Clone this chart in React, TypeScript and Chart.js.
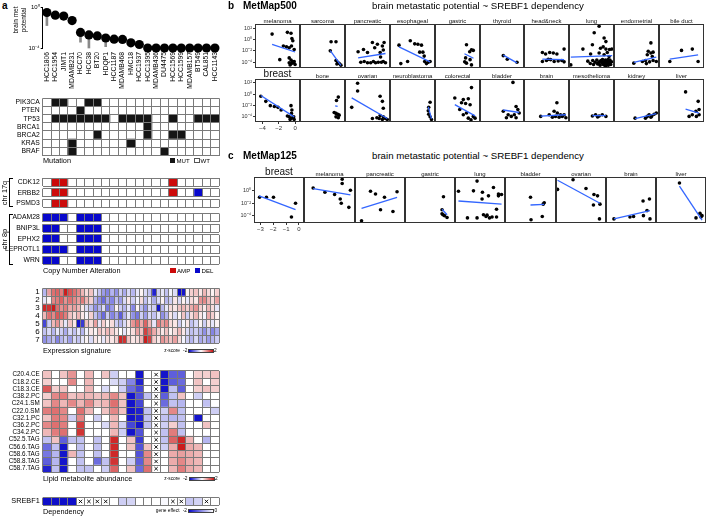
import React, { useEffect, useRef } from 'react';
import { Chart, registerables } from 'chart.js';

Chart.register(...registerables);
const FONT = "'Liberation Sans', Arial, Helvetica, sans-serif";
Chart.defaults.font.family = FONT;
Chart.defaults.color = '#000';

// ---------------- panel a data ----------------
const CELL_LINES = ['HCC1806', 'HCC1954', 'JIMT1', 'MDAMB231', 'HCC70', 'HCC38', 'BT20', 'HDQP1', 'HCC1187', 'MDAMB468', 'HMC18', 'HCC1937', 'HCC1395', 'MDAMB436', 'DU4475', 'HCC1569', 'HCC1599', 'MDAMB157', 'BT549', 'CAL851', 'HCC1143'];
const BRAIN_MET = [0.29, 0.16, 0.13, 0.047, 0.0033, 0.0019, 0.0015, 0.00095, 0.00072, 0.00068, 0.00032, 0.00022, 0.0001, 0.0001, 0.0001, 0.0001, 0.0001, 0.0001, 0.0001, 0.0001, 0.0001];
const BRAIN_MET_LOW: (number | null)[] = [0.0155, null, null, 0.03, 0.00037, 0.0001, null, 0.000135, null, 0.0004, 0.00016, null, null, null, null, null, null, null, null, null, null];

const MUT_GENES = ['PIK3CA', 'PTEN', 'TP53', 'BRCA1', 'BRCA2', 'KRAS', 'BRAF'];
const MUT_PIK3CA = [0, 1, 1, 0, 0, 1, 1, 0, 0, 0, 0, 0, 0, 0, 0, 0, 0, 0, 0, 0, 0];
const MUT_PTEN = [0, 0, 0, 0, 1, 0, 0, 0, 0, 0, 0, 0, 0, 0, 0, 0, 0, 0, 0, 0, 0];
const MUT_TP53 = [0, 1, 1, 1, 1, 1, 1, 1, 0, 1, 1, 1, 1, 0, 0, 1, 0, 0, 1, 1, 1];
const MUT_BRCA1 = [0, 0, 0, 0, 0, 0, 0, 0, 0, 0, 0, 0, 1, 0, 0, 0, 0, 0, 0, 0, 0];
const MUT_BRCA2 = [0, 0, 0, 0, 0, 0, 1, 0, 0, 0, 0, 0, 1, 0, 0, 1, 1, 0, 0, 0, 0];
const MUT_KRAS = [0, 0, 0, 1, 0, 0, 0, 0, 0, 0, 1, 0, 0, 0, 0, 0, 0, 0, 0, 0, 0];
const MUT_BRAF = [0, 0, 0, 1, 0, 0, 0, 0, 0, 0, 0, 0, 0, 0, 1, 0, 0, 0, 0, 0, 0];

// copy number: 1 = AMP, -1 = DEL
const CNA_CDK12 = [0, 1, 1, 0, 0, 0, 0, 0, 0, 0, 0, 0, 0, 0, 0, 1, 0, 0, 0, 0, 0];
const CNA_ERBB2 = [0, 1, 1, 0, 0, 0, 0, 0, 0, 0, 0, 0, 0, 0, 0, 1, 0, 0, -1, 0, 0];
const CNA_PSMD3 = [0, 1, 1, 0, 0, 0, 0, 0, 0, 0, 0, 0, 0, 0, 0, 0, 0, 0, 0, 0, 0];
const CNA_ADAM28 = [-1, -1, -1, 0, -1, -1, -1, 0, 0, 0, 0, 0, 0, 0, 0, 0, 0, 0, 0, 0, 0];
const CNA_BNIP3L = [-1, -1, 0, 0, -1, -1, -1, 0, 0, 0, 0, 0, 0, 0, 0, 0, 0, 0, 0, 0, 0];
const CNA_EPHX2 = [-1, -1, 0, 0, -1, -1, -1, 0, 0, 0, 0, 0, 0, 0, 0, 0, 0, 0, 0, 0, 0];
const CNA_LEPROTL1 = [-1, -1, -1, 0, -1, -1, -1, 0, 0, 0, 0, 0, 0, 0, 0, 0, 0, 0, 0, 0, 0];
const CNA_WRN = [-1, -1, 0, 0, -1, -1, -1, 0, 0, 0, 0, 0, 0, 0, 0, 0, 0, 0, 0, 0, 0];

const EXPR_ROWS = ['1', '2', '3', '4', '5', '6', '7'];
const EXPR_1 = [-0.6, 0.8, 1.2, 1.3, 1.1, 1.9, 1.4, 1.2, 1.0, 0.6, 0.3, 0.5, -0.2, -0.5, -0.8, -1.0, -0.6, -0.9, -0.4, -0.7, -0.3, -0.6, -0.2, 0.1, -0.3, -0.5, -1.8, -0.4, -0.2, -0.5, -0.1, -0.3, -2.0, -1.9, 0.1, 0.4, 0.5, 0.2, 0.6, 0.3, 0.1, 0.4];
const EXPR_2 = [-0.2, 0.1, 1.0, 1.1, 1.3, 0.9, 1.2, 1.0, 0.8, 1.1, 0.6, 0.4, -0.6, -0.9, -1.2, -0.7, -1.0, -0.5, -0.8, -0.3, 0.2, -0.4, -0.1, 0.3, -0.5, -0.2, -0.7, -0.3, 0.1, -0.6, -0.4, 0.2, -0.3, 0.1, -0.2, 0.3, 0.2, 0.9, 1.0, 0.6, 0.3, 0.8];
const EXPR_3 = [1.8, 1.7, 1.9, 1.2, 0.9, 1.1, 0.7, 0.8, 0.6, 0.2, -0.3, -0.5, -0.9, -0.6, -0.3, -1.1, -0.8, 0.1, -0.4, -0.6, -0.2, -1.0, 0.1, -0.5, -0.9, -0.3, -0.4, -1.9, -0.6, -0.2, 0.3, 0.2, 0.5, 0.6, 0.4, 0.7, 0.9, 0.4, 0.2, 0.6, 0.3, -0.2];
const EXPR_4 = [0.6, 1.2, 1.0, 1.4, 1.3, 1.1, 0.5, 0.3, 0.6, 0.2, -0.1, 0.4, -0.5, -0.8, -1.2, -0.4, -1.0, -0.7, -1.3, -0.6, -0.2, -0.9, -1.1, -0.4, -0.8, -0.3, -0.5, -0.2, -0.9, -0.6, 0.2, -0.3, 0.1, 0.5, -0.4, 0.3, 0.6, 0.2, -0.1, 0.7, 0.4, 0.1];
const EXPR_5 = [-1.5, -0.4, 0.6, 0.9, 0.4, -0.2, 0.5, 0.2, -1.9, -1.6, 0.5, 0.3, 0.8, -0.2, 0.4, 0.1, 0.3, -0.4, -0.6, -0.3, 0.2, 0.9, 1.2, 0.7, 1.3, 0.6, -0.2, 1.1, 0.8, 1.0, 0.3, 0.2, -0.4, -0.1, 0.2, -0.5, -0.3, 0.1, -0.4, 0.2, -0.2, 0.1];
const EXPR_6 = [-0.5, -0.3, -0.6, -0.2, -0.4, -0.7, -0.3, -0.5, -0.2, -0.6, -0.1, 0.2, 0.1, 0.5, 0.3, 0.6, 0.4, 0.2, 0.0, -0.2, 0.1, 0.3, 0.8, 0.5, 1.6, 1.2, 0.7, 0.4, 0.2, 0.5, 0.1, 0.3, 0.6, 0.2, -0.3, -0.5, -0.4, -0.6, -0.9, -0.5, -1.0, -0.7];
const EXPR_7 = [-0.9, -0.7, -0.5, -1.0, -0.6, -0.4, -0.8, -0.3, -0.5, -0.2, 0.1, -0.3, 0.2, 0.1, -0.2, 0.3, 0.2, 0.4, 1.8, 1.7, 0.5, 0.2, 0.3, 0.6, 1.9, 1.6, 0.4, 0.2, 0.9, 0.7, 0.5, 0.8, 0.3, -0.1, -0.4, -0.6, -0.3, -0.7, -0.5, -0.8, -0.6, -0.4];

const LIPIDS = ['C20.4.CE', 'C18.2.CE', 'C18.3.CE', 'C38.2.PC', 'C24.1.SM', 'C22.0.SM', 'C32.1.PC', 'C36.2.PC', 'C34.2.PC', 'C52.5.TAG', 'C56.6.TAG', 'C58.6.TAG', 'C58.8.TAG', 'C58.7.TAG'];
const LIP_C20_4_CE = [0.5, 0, 0.5, 0.9, 0, 0.6, 0, 0.5, -0.4, 0, 0, -1.9, 0, null, -1.9, -1.3, -1.3, 0, 0.4, 0.4, 0.5];
const LIP_C18_2_CE = [0.4, 0, 0, 1.0, 0, 0.6, 0, 0, -0.3, -0.4, -1.0, -1.8, 0, null, -1.9, -1.3, -1.2, 0, 0.5, 0, 0.4];
const LIP_C18_3_CE = [1.4, 0.4, 0.5, 0, 0, 0.6, 0, -0.3, 0, -0.4, -1.2, -1.5, 0, null, -1.9, -0.5, -1.3, 0, 0.4, 0.5, 0.4];
const LIP_C38_2_PC = [0.4, 1.0, 1.1, 0.5, 0.6, 0.6, 0.5, 0.6, 1.0, 0.5, -1.9, -1.4, -0.5, null, -1.3, -0.5, 0.5, 0, -0.4, 0, 0];
const LIP_C24_1_SM = [0.5, 1.0, 0.6, 1.0, 0.6, 1.0, 0.5, 0.6, 1.2, 0.5, -1.9, -1.5, 0, null, -1.2, -0.5, -0.6, 0, 0, -0.5, 0];
const LIP_C22_0_SM = [1.1, 1.2, 1.0, 0, 1.2, 0.6, 0, 0.5, 1.0, 0.5, -1.9, -1.8, -0.5, null, -0.4, 1.0, -0.5, 0, 0, 0, -0.4];
const LIP_C32_1_PC = [0.5, 1.1, 1.0, -0.4, 1.0, 0, -0.4, 0, 0.6, 0, -1.9, -1.8, -0.5, null, -0.5, -0.6, -0.5, 0, -1.9, 0, 0];
const LIP_C36_2_PC = [1.0, 1.2, 1.1, 0, 1.6, 0, 0, -0.3, 0.6, -0.4, -1.5, -1.9, -0.5, null, -0.4, 0.4, -0.5, 0, 0, 0.5, 0];
const LIP_C34_2_PC = [0.6, 1.1, 1.2, 0, 1.7, 0, 0, 0, 0.6, -0.4, -1.9, -1.4, 0, null, -0.5, 1.1, -0.5, 0, 0, 0, 0];
const LIP_C52_5_TAG = [-0.5, 0.5, -1.3, -0.5, -0.5, 0, -0.5, 0, 1.8, 0, 0.5, -1.6, 0, null, -0.5, 1.3, 1.8, 0.6, 0, -0.6, 0];
const LIP_C56_6_TAG = [-1.2, -0.5, -1.9, 0, -0.5, 0, -0.5, 0, 1.8, 0, 0.5, -1.4, 0.5, null, -0.4, 0.7, 1.9, 0.7, 0.6, 0, 0];
const LIP_C58_6_TAG = [-1.1, -0.6, -1.9, 0.6, -0.5, 0, -0.5, 0, 1.8, 0, 0, -1.4, 1.0, null, 0, 0.7, 0.8, 0.7, 0.6, 0, 0];
const LIP_C58_8_TAG = [-1.3, -0.6, -1.9, 0, -0.5, 0, -1.2, -0.5, 1.7, 0, -0.4, -1.3, 1.0, null, 0, 0.7, 1.0, 0.7, 0.6, 0, 0];
const LIP_C58_7_TAG = [-1.8, -0.5, -1.9, 0, -0.5, -0.5, 0, -0.4, 1.3, 0, 0.5, -1.2, 1.2, null, 0, 0.6, 1.1, 0.7, 0.6, 0, 0];

const SREBF1_EFFECT = [-1.95, -1.95, -1.95, -1.95, null, null, null, null, 0, -0.4, -0.35, 0, 0, 0, -0.05, null, null, -0.45, -0.35, null, 0];

// ---------------- panel b data (x = SREBF1 dependency, y = log10 brain met potential) ----------------
const B_ROW1_NAMES = ['melanoma', 'sarcoma', 'pancreatic', 'esophageal', 'gastric', 'thyroid', 'head&neck', 'lung', 'endometrial', 'bile duct'];
const B_ROW2_NAMES = ['breast', 'bone', 'ovarian', 'neuroblastoma', 'colorectal', 'bladder', 'brain', 'mesothelioma', 'kidney', 'liver'];
const B_MELANOMA = [[-2.81, 0.93], [-0.94, 1.24], [-0.5, 1.08], [-0.39, 0.16], [-0.28, -0.23], [-1.43, -1.15], [-1.05, -1.3], [-0.72, -1.46], [-0.44, -1.15], [-0.11, -1.77], [-1.87, -3.54], [-0.72, -3.23], [-0.5, -3.61], [-0.33, -3.85], [-0.11, -3.85], [-0.72, -4.08], [-0.44, -4.23], [-0.17, -4.08], [-0.61, -4.46], [0, -4.38]];
const B_SARCOMA = [[-1.1, -0.4], [-0.5, -0.4], [-1.2, -2.0], [-0.5, -3.7], [-0.28, -4.0], [-0.1, -4.23], [-0.39, -4.3], [0.1, -4.5]];
const B_PANCREATIC = [[-3.3, -2.16], [-2.64, -1.77], [-2.15, -2.3], [-1.55, -0.54], [-1.27, -1.46], [-0.94, -0.85], [-0.33, -1.15], [-0.12, -0.54], [-0.22, -1.84], [-0.6, -2.3], [-0.55, -3.08], [-2.97, -4.0], [-2.55, -3.85], [-2.15, -4.08], [-1.76, -4.08], [-1.43, -3.85], [-1.16, -4.08], [-0.83, -4.0], [-0.45, -4.0], [-0.22, -3.85], [0.05, -4.08]];
const B_ESOPHAGEAL = [[-3.8, -1.0], [-2.42, -0.23], [-1.88, -0.77], [-1.49, -0.85], [-1.05, -1.0], [-1.27, -2.23], [-0.88, -2.23], [-0.72, -2.92], [-2.75, -3.85], [-3.58, -4.23], [-0.66, -3.85], [-0.22, -4.0], [0, -3.85], [-0.44, -4.23]];
const B_GASTRIC = [[-1.05, -0.92], [-0.44, -1.8], [-0.22, -1.92], [-0.66, -2.15], [-1.16, -3.23], [-0.61, -3.54], [-1.05, -4.15], [-0.44, -4.46], [-1.27, -3.92]];
const B_THYROID = [[-1.99, -2.84], [-1.49, -3.46], [-0.28, -4.0]];
const B_HEADNECK = [[-2.65, -2.3], [-2.26, -2.54], [-1.76, -2.3], [-1.32, -2.38], [-0.88, -2.54], [0, -1.69], [-2.65, -3.85], [-2.15, -3.69], [-1.65, -3.54], [-1.21, -3.85], [-0.72, -3.77], [-0.28, -3.69], [0, -3.92], [-1.93, -3.46]];
const B_LUNG = [[-1.22, 2.3], [-1.82, 1.16], [-0.61, 0.24], [-0.39, -0.38], [-2.04, -0.92], [-3.2, -1.69], [-1.05, -1.54], [-0.72, -1.3], [-0.39, -1.69], [0.05, -1.77], [-0.22, -2.3], [0.33, -1.69], [-0.61, -2.69], [-2.26, -2.54], [-1.22, -2.38], [0, -2.99], [-4.68, -4.46], [-2.6, -3.8], [-2.3, -4.2], [-2.0, -3.7], [-1.9, -4.4], [-1.7, -4.0], [-1.5, -3.6], [-1.4, -4.3], [-1.2, -3.9], [-1.1, -4.5], [-1.0, -3.7], [-0.9, -4.1], [-0.8, -3.5], [-0.7, -4.4], [-0.6, -3.9], [-0.5, -4.2], [-0.45, -3.6], [-0.4, -4.6], [-0.3, -4.0], [-0.25, -3.7], [-0.2, -4.3], [-0.15, -3.9], [-0.1, -4.5], [-0.05, -4.1], [0, -3.8], [0.05, -4.3], [0.1, -3.6], [0.15, -4.0], [0.2, -4.4], [-0.35, -4.3], [-0.55, -4.5], [-0.75, -4.0], [-1.3, -4.1], [0.3, -3.9], [-0.12, -3.5]];
const B_ENDOMETRIAL = [[-0.39, -0.61], [-0.72, -2.07], [-0.39, -2.38], [-0.12, -2.23], [-0.83, -2.69], [-0.22, -2.99], [-2.48, -4.15], [-1.43, -3.85], [-1.05, -3.69], [-0.55, -3.92], [-0.12, -3.69], [0.27, -3.85], [-0.94, -4.23]];
const B_BILEDUCT = [[-3.58, -3.85], [-2.15, -1.92], [-0.83, -1.69], [-0.12, -3.85]];
const B_BREAST = [[-4.19, -0.38], [-3.58, -1.3], [-3.03, -2.07], [-2.53, -2.23], [-2.09, -2.38], [-1.71, -2.84], [-0.5, -2.07], [-0.39, -2.84], [-0.44, -3.46], [-0.72, -4.08], [-0.94, -3.92], [-0.5, -4.38], [-0.33, -4.23], [-0.11, -4.54], [-0.17, -4.08], [-0.61, -4.54]];
const B_BONE = [[-0.22, -0.54], [-0.44, -1.15], [-0.5, -3.46], [-0.72, -3.3], [-0.28, -3.61], [-0.5, -4.08], [-0.22, -4.23], [-0.11, -3.77]];
const B_OVARIAN = [[-3.36, 1.93], [-3.36, 0.54], [-4.08, -2.38], [-0.61, -0.38], [-0.33, -1.3], [-0.22, -2.54], [-1.55, -4.38], [-1.0, -4.23], [-0.61, -3.85], [-0.22, -4.08], [0.05, -4.38], [0.27, -4.54], [-0.33, -4.54], [-0.72, -4.38]];
const B_NEUROBLASTOMA = [[0, -1.46], [-0.17, -2.38], [-0.22, -3.0], [-0.17, -3.61], [0, -4.08], [0.17, -4.54]];
const B_COLORECTAL = [[-2.48, -0.69], [-1.44, -0.99], [-1.66, -1.54], [-0.44, 1.16], [-0.83, -0.84], [-1.16, -1.69], [-0.61, -1.92], [-1.05, -3.38], [-0.22, -4.0], [0, -4.31], [-0.83, -4.31], [-0.5, -4.62], [-1.44, -3.69], [-1.88, -2.77]];
const B_BLADDER = [[-0.78, 2.09], [-1.99, -3.08], [-0.39, -2.23], [-0.17, -2.77], [-1.38, -3.69], [-0.99, -4.0], [-0.61, -3.69], [-0.39, -4.23], [-1.6, -4.23], [0, -3.38]];
const B_BRAIN = [[-0.88, -1.54], [-2.86, -4.0], [-1.22, -3.08], [-0.83, -3.38], [-0.44, -3.69], [-0.22, -4.0], [-0.61, -4.15], [-1.05, -4.0], [-1.43, -4.15], [0, -3.69], [-1.82, -3.69], [0.22, -4.23]];
const B_MESOTHELIOMA = [[-2.04, -3.92], [-1.65, -3.69], [-1.22, -3.92], [-0.83, -3.69], [-0.39, -4.0], [-1.4, -4.1]];
const B_KIDNEY = [[-2.32, -4.31], [-0.83, -4.0], [-0.61, -3.69], [-0.28, -3.92], [0, -3.61], [0.27, -3.38], [-0.39, -4.15], [-1.05, -4.31]];
const B_LIVER = [[-1.65, 0.39], [-0.11, -1.3], [0, -2.77], [-0.39, -3.08], [-0.83, -3.69], [-1.22, -4.0], [0, -3.69], [-0.33, -4.0]];
// fitted lines: [x1, y1, x2, y2]
const B_FITS_ROW1 = [[-2.81, -0.85, 0.0, -2.2], [-1.2, -1.95, 0.1, -4.55], [-3.3, -3.23, 0.05, -2.46], [-3.8, -1.3, 0.0, -3.92], [-1.3, -2.5, -0.2, -3.3], [-1.99, -2.75, -0.28, -4.1], [-2.65, -3.46, 0, -3.54], [-4.68, -3.1, 0.38, -2.85], [-2.48, -4.0, 0.27, -3.08], [-3.58, -3.46, -0.12, -2.69]];
const B_FITS_ROW2 = [[-4.19, -0.26, -0.11, -4.08], [-0.6, -2.1, -0.3, -2.2], [-4.08, -0.69, 0.27, -4.38], [-0.22, -2.3, 0.17, -4.4], [-2.48, -1.9, 0, -3.9], [-1.99, -2.85, 0, -3.3], [-2.86, -3.95, 0.22, -3.7], [-2.04, -3.85, -0.39, -3.85], [-2.32, -4.4, 0.27, -3.5], [-1.65, -2.7, 0, -3.4]];

// ---------------- panel c data ----------------
const C_NAMES = ['breast', 'melanoma', 'pancreatic', 'gastric', 'lung', 'bladder', 'ovarian', 'brain', 'liver'];
const C_BREAST = [[-3.07, -1.1], [-2.53, -1.1], [-1.98, -1.1], [-0.26, -2.03], [-0.58, -4.17]];
const C_MELANOMA = [[-2.8, 0.33], [-1.9, -0.31], [-1.16, -0.67], [-0.58, 1.7], [-0.58, 1.05], [0.05, 0.0], [-0.73, -1.38], [-0.65, -2.03], [-0.07, -2.67]];
const C_PANCREATIC = [[-2.99, -4.74], [-2.29, -0.17], [-1.9, -0.6], [-1.51, -3.03], [-1.2, -1.1], [-0.54, -3.31], [-0.22, -0.24]];
const C_GASTRIC = [[-0.5, -1.02], [-0.61, -3.05], [-0.54, -3.81], [-0.61, -3.67], [-0.42, -3.96], [-0.22, -4.24]];
const C_LUNG = [[-3.23, -0.17], [-1.78, 1.41], [-2.06, -0.1], [-1.36, -0.31], [-0.89, -0.88], [-1.39, -1.38], [-0.5, 0.41], [-0.11, -0.6], [0.13, -0.67], [-0.11, -0.88], [-0.26, -2.96], [-1.28, -3.81], [-1.08, -4.1], [-0.81, -4.31], [-0.61, -4.17], [-0.26, -4.17], [-2.53, -4.31], [-1.78, -4.31], [-1.0, -3.88]];
const C_BLADDER = [[-1.55, -1.1], [-1.51, -4.6], [-0.58, -2.17], [-0.5, -1.96], [-0.65, -4.1]];
const C_OVARIAN = [[-3.38, 0.12], [-2.17, 1.62], [-1.16, 0.26], [-0.54, -0.67], [-0.26, -0.88], [-0.58, -2.31], [-0.07, -2.17], [-0.11, -4.46]];
const C_BRAIN = [[-2.88, -4.46], [-1.63, -4.17], [-1.35, -4.1], [-0.61, -1.67], [-0.11, -1.38], [-0.3, -3.17], [-0.58, -3.96], [-0.07, -4.46]];
const C_LIVER = [[-1.67, 1.12], [-0.07, -3.6], [-0.38, -4.31], [0.01, -4.17], [0.09, -3.96]];
const C_FITS = [[-3.1, -0.88, -0.26, -3.03], [-2.8, 0.26, 0.05, -0.74], [-2.99, -2.81, -0.22, -1.1], [-0.61, -2.96, -0.22, -3.81], [-3.23, -1.68, 0.13, -2.17], [-1.55, -2.3, -0.5, -2.2], [-3.38, 1.55, -0.07, -2.03], [-2.88, -4.46, -0.07, -3.17], [-1.67, 0.62, 0.09, -4.67]];

const B_X_RANGE = [-4.9, 0.6];
const B_Y_RANGE = [-5, 2.7];
const B_Y_TICKS = [2, 0, -2, -4];
const B_X_TICKS = [-4, -2, 0];
const C_X_RANGE = [-3.5, 0.4];
const C_Y_RANGE = [-5.1, 2.05];
const C_Y_TICKS = [0, -2, -4];
const C_X_TICKS = [-3, -2, -1, 0];
const A_Y_TICKS = [-4, 0];

// ---------------- helpers ----------------
const SUP: Record<string, string> = { '0': '⁰', '1': '¹', '2': '²', '3': '³', '4': '⁴', '5': '⁵', '6': '⁶', '7': '⁷', '8': '⁸', '9': '⁹', '-': '⁻' };
const pow10 = (v: number) => '10' + String(v).split('').map((c) => SUP[c] ?? c).join('');
const minusFmt = (v: number) => (v < 0 ? '−' + Math.abs(v) : String(v));

const RED = [200, 16, 16];
const BLUE = [8, 8, 200];
const mix = (c: number[], t: number) => `rgb(${Math.round(255 + (c[0] - 255) * t)},${Math.round(255 + (c[1] - 255) * t)},${Math.round(255 + (c[2] - 255) * t)})`;
const zColor = (v: number | null) => (v == null ? '#fff' : v >= 0 ? mix(RED, Math.min(1, v / 2)) : mix(BLUE, Math.min(1, -v / 2)));
const effColor = (v: number | null) => (v == null ? '#fff' : mix(BLUE, Math.min(1, Math.max(0, -v / 2))));
const mutColor = (v: number | null) => (v ? '#151515' : '#fff');
const cnaColor = (v: number | null) => (v && v > 0 ? '#CC0A0A' : v && v < 0 ? '#0808CC' : '#fff');

const BASE_OPTS = {
  responsive: false,
  maintainAspectRatio: false,
  animation: false,
  events: [] as any[],
};
const NO_PLUGINS = { legend: { display: false }, tooltip: { enabled: false } };
const noPad = (s: any) => { s.paddingTop = 0; s.paddingBottom = 0; s.paddingLeft = 0; s.paddingRight = 0; };

const boxPlugin = {
  id: 'panelBox',
  afterDatasetsDraw(chart: any) {
    const { ctx, chartArea: a } = chart;
    ctx.save();
    ctx.strokeStyle = '#333';
    ctx.lineWidth = 1;
    ctx.strokeRect(Math.round(a.left) + 0.5, Math.round(a.top) + 0.5, Math.round(a.right - a.left) - 1, Math.round(a.bottom - a.top) - 1);
    ctx.restore();
  },
};

function ChartBox({ x, y, w, h, config }: { x: number; y: number; w: number; h: number; config: any }) {
  const ref = useRef<HTMLCanvasElement>(null);
  useEffect(() => {
    const c = new Chart(ref.current as HTMLCanvasElement, config);
    return () => c.destroy();
  }, []);
  return <canvas ref={ref} width={w} height={h} style={{ position: 'absolute', left: x, top: y, width: w, height: h }} />;
}

function Txt({ x, y, s = 8, bold = false, anchor = 'start', children, color = '#000' }: any) {
  const tx = anchor === 'middle' ? '-50%' : anchor === 'end' ? '-100%' : '0';
  return (
    <div
      style={{
        position: 'absolute', left: x, top: y, fontSize: s, fontWeight: bold ? 700 : 400, lineHeight: 1, whiteSpace: 'nowrap', color,
        transform: `translate(${tx},-50%)`, fontFamily: FONT,
      }}
    >
      {children}
    </div>
  );
}

function Box({ x, y, w, h, bg = '#fff', border = 'none' }: any) {
  return <div style={{ position: 'absolute', left: x, top: y, width: w, height: h, background: bg, border, boxSizing: 'border-box' }} />;
}

// ---------------- lollipop (log10 values on a linear axis labelled as powers of ten) ----------------
function lollipopConfig() {
  const logMet = BRAIN_MET.map((v) => Math.log10(v));
  return {
    type: 'bar',
    data: {
      labels: CELL_LINES,
      datasets: [
        { type: 'line', data: logMet, showLine: false, pointRadius: 4.6, pointBackgroundColor: '#000', pointBorderWidth: 0, clip: false, order: 0 },
        {
          type: 'bar', data: BRAIN_MET_LOW.map((lo, i) => (lo == null ? null : [Math.log10(lo), logMet[i]])),
          backgroundColor: '#8a8a8a', barThickness: 2, clip: false, order: 1,
        },
      ],
    },
    options: {
      ...BASE_OPTS,
      layout: { autoPadding: false, padding: { top: 7, right: 221 - 219.1, left: 0, bottom: 0 } },
      plugins: NO_PLUGINS,
      scales: {
        x: {
          type: 'category', offset: true, grid: { display: false, drawTicks: false }, border: { display: false },
          ticks: { autoSkip: false, minRotation: 90, maxRotation: 90, font: { size: 6.8 }, color: '#000', padding: 4 },
          afterFit: (s: any) => { s.height = 97 - 48; noPad(s); },
        },
        y: {
          type: 'linear', min: -4, max: 0,
          afterBuildTicks: (s: any) => { s.ticks = A_Y_TICKS.map((v) => ({ value: v })); },
          ticks: { callback: (v: number) => pow10(v), font: { size: 6 }, color: '#000', padding: 1 },
          grid: { drawOnChartArea: false, tickLength: 2, color: '#000' },
          border: { color: '#000' },
          afterFit: (s: any) => { s.width = 42.7; noPad(s); },
        },
      },
    },
  };
}

// ---------------- heatmaps ----------------
const GRID = '#7a7a7a';
const HM_L = 42.7;
const HM_R = 219.1;
const HM_W = 221;

function heatConfig(rows: string[], m: (number | null)[][], color: (v: number | null) => string, padTop: number, padBottom: number, fs: number) {
  const C = m[0].length;
  const datasets: any[] = [];
  const na: any[] = [];
  rows.forEach((r, i) => m[i].forEach((v, j) => { if (v === null) na.push({ x: j + 0.5, y: r }); }));
  if (na.length) {
    datasets.push({ type: 'scatter', data: na, pointStyle: 'crossRot', pointRadius: 2.4, borderColor: '#000', borderWidth: 0.9, backgroundColor: '#000', clip: false });
  }
  for (let j = 0; j < C; j++) {
    datasets.push({
      type: 'bar', indexAxis: 'y', grouped: false, barPercentage: 1, categoryPercentage: 1, borderWidth: 0,
      data: rows.map(() => [j, j + 1]),
      backgroundColor: rows.map((_, i) => color(m[i][j])),
    });
  }
  return {
    type: 'bar',
    data: { labels: rows, datasets },
    options: {
      ...BASE_OPTS,
      indexAxis: 'y',
      layout: { autoPadding: false, padding: { top: padTop, bottom: padBottom, left: 0, right: HM_W - HM_R } },
      plugins: NO_PLUGINS,
      scales: {
        x: {
          type: 'linear', min: 0, max: C,
          afterBuildTicks: (s: any) => { s.ticks = m[0].map((_, k) => ({ value: k })).concat([{ value: C }]); },
          ticks: { display: false }, grid: { color: GRID, z: 1, drawTicks: false }, border: { display: false },
          afterFit: (s: any) => { s.height = 0; noPad(s); },
        },
        y: {
          type: 'category', offset: true,
          grid: { offset: true, color: GRID, z: 1, drawTicks: false }, border: { display: false },
          ticks: { font: { size: fs }, color: '#000', padding: 3, autoSkip: false },
          afterFit: (s: any) => { s.width = HM_L; noPad(s); },
        },
      },
    },
  };
}

function HeatMap({ top, bottom, rows, m, color, fs }: any) {
  const y0 = Math.floor(top) - 1;
  const y1 = Math.ceil(bottom) + 1;
  return <ChartBox x={0} y={y0} w={HM_W} h={y1 - y0} config={heatConfig(rows, m, color, top - y0, y1 - bottom, fs)} />;
}

// ---------------- facet scatter ----------------
const AX_W = 21;
const AX_H = 10;
function scatterConfig(pts: number[][], fit: number[], xr: number[], yr: number[], yTicks?: number[], xTicks?: number[]) {
  return {
    type: 'scatter',
    data: {
      datasets: [
        { data: [{ x: fit[0], y: fit[1] }, { x: fit[2], y: fit[3] }], showLine: true, borderColor: '#3366FF', borderWidth: 1.3, pointRadius: 0 },
        { data: pts.map(([x, y]) => ({ x, y })), pointRadius: 1.8, pointBackgroundColor: '#000', pointBorderWidth: 0 },
      ],
    },
    options: {
      ...BASE_OPTS,
      layout: { autoPadding: false, padding: 0 },
      plugins: NO_PLUGINS,
      scales: {
        x: {
          type: 'linear', min: xr[0], max: xr[1], display: !!xTicks,
          afterBuildTicks: (s: any) => { if (xTicks) s.ticks = xTicks.map((v) => ({ value: v })); },
          ticks: { font: { size: 6 }, color: '#333', padding: 1, callback: (v: number) => minusFmt(v) },
          grid: { drawOnChartArea: false, tickLength: 2, color: '#333' }, border: { display: false },
          afterFit: (s: any) => { if (xTicks) s.height = AX_H; noPad(s); },
        },
        y: {
          type: 'linear', min: yr[0], max: yr[1], display: !!yTicks,
          afterBuildTicks: (s: any) => { if (yTicks) s.ticks = yTicks.map((v) => ({ value: v })); },
          ticks: { font: { size: 5.5 }, color: '#333', padding: 1, callback: (v: number) => pow10(v) },
          grid: { drawOnChartArea: false, tickLength: 2, color: '#333' }, border: { display: false },
          afterFit: (s: any) => { if (yTicks) s.width = AX_W; noPad(s); },
        },
      },
    },
    plugins: [boxPlugin],
  };
}

function Facet({ x0, x1, top, h, pts, fit, xr, yr, yTicks, xTicks }: any) {
  const x = yTicks ? x0 - AX_W : x0;
  const w = x1 - x;
  const hh = h + (xTicks ? AX_H : 0);
  return <ChartBox x={x} y={top} w={w} h={hh} config={scatterConfig(pts, fit, xr, yr, yTicks, xTicks)} />;
}

const B_COLS = [255, 300, 345, 390, 435, 480, 524, 569, 614, 659, 704];
const C_COLS = [254, 304, 355, 405, 455, 505, 556, 606, 656, 706];
const B_ROW1_DATA = [B_MELANOMA, B_SARCOMA, B_PANCREATIC, B_ESOPHAGEAL, B_GASTRIC, B_THYROID, B_HEADNECK, B_LUNG, B_ENDOMETRIAL, B_BILEDUCT];
const B_ROW2_DATA = [B_BREAST, B_BONE, B_OVARIAN, B_NEUROBLASTOMA, B_COLORECTAL, B_BLADDER, B_BRAIN, B_MESOTHELIOMA, B_KIDNEY, B_LIVER];
const C_DATA = [C_BREAST, C_MELANOMA, C_PANCREATIC, C_GASTRIC, C_LUNG, C_BLADDER, C_OVARIAN, C_BRAIN, C_LIVER];

export default function App() {
  const cnaRows = [
    { name: 'CDK12', v: CNA_CDK12, top: 178 },
    { name: 'ERBB2', v: CNA_ERBB2, top: 188.7 },
    { name: 'PSMD3', v: CNA_PSMD3, top: 199.3 },
    { name: 'ADAM28', v: CNA_ADAM28, top: 213.5 },
    { name: 'BNIP3L', v: CNA_BNIP3L, top: 224.2 },
    { name: 'EPHX2', v: CNA_EPHX2, top: 234.9 },
    { name: 'LEPROTL1', v: CNA_LEPROTL1, top: 245.6 },
    { name: 'WRN', v: CNA_WRN, top: 256.3 },
  ];
  const zGrad = `linear-gradient(to right, ${zColor(-2)}, #fff, ${zColor(2)})`;
  const effGrad = `linear-gradient(to right, ${effColor(-2)}, #fff)`;
  const rot = { position: 'absolute' as const, transform: 'translate(-50%,-50%) rotate(-90deg)', whiteSpace: 'nowrap' as const, fontFamily: FONT };
  const bracket = { position: 'absolute' as const, left: 9, width: 4, borderLeft: '0.8px solid #000', borderTop: '0.8px solid #000', borderBottom: '0.8px solid #000', boxSizing: 'border-box' as const };
  return (
    <div style={{ position: 'fixed', left: 0, top: 0, width: 708, height: 516, background: '#fff', overflow: 'hidden', fontFamily: FONT }}>
      {/* ---------- panel a ---------- */}
      <Txt x={2} y={6} s={10} bold>a</Txt>
      <ChartBox x={0} y={0} w={221} h={97} config={lollipopConfig()} />
      <div style={{ ...rot, left: 20, top: 20, fontSize: 6.5, lineHeight: 1.2, textAlign: 'center' }}>
        brain met<br />potential
      </div>

      <HeatMap top={98.3} bottom={155.5} rows={MUT_GENES} m={[MUT_PIK3CA, MUT_PTEN, MUT_TP53, MUT_BRCA1, MUT_BRCA2, MUT_KRAS, MUT_BRAF]} color={mutColor} fs={6.8} />
      <Txt x={43} y={160.5} s={7.3}>Mutation</Txt>
      <Box x={169.5} y={157.7} w={5.5} h={5.5} bg="#151515" />
      <Txt x={176.5} y={160.5} s={6.1}>MUT</Txt>
      <Box x={194} y={157.7} w={5.5} h={5.5} border="0.8px solid #555" />
      <Txt x={200.5} y={160.5} s={6.1}>WT</Txt>

      {cnaRows.map((r) => (
        <HeatMap key={r.name} top={r.top} bottom={r.top + 8} rows={[r.name]} m={[r.v]} color={cnaColor} fs={6.8} />
      ))}
      <div style={{ ...bracket, top: 178, height: 29 }} />
      <div style={{ ...bracket, top: 213.5, height: 51 }} />
      <div style={{ ...rot, left: 4.5, top: 192.5, fontSize: 7.3, lineHeight: 1 }}>chr 17q</div>
      <div style={{ ...rot, left: 4.5, top: 239, fontSize: 7.3, lineHeight: 1 }}>chr 8p</div>
      <Txt x={43} y={270.5} s={7.3}>Copy Number Alteration</Txt>
      <Box x={170} y={267.7} w={5.5} h={5.5} bg="#CC0A0A" />
      <Txt x={177} y={270.5} s={6.1}>AMP</Txt>
      <Box x={194.5} y={267.7} w={5.5} h={5.5} bg="#0808CC" />
      <Txt x={201.5} y={270.5} s={6.1}>DEL</Txt>

      <HeatMap top={288.3} bottom={343.3} rows={EXPR_ROWS} m={[EXPR_1, EXPR_2, EXPR_3, EXPR_4, EXPR_5, EXPR_6, EXPR_7]} color={zColor} fs={8} />
      <Txt x={43} y={351} s={7.3}>Expression signature</Txt>
      <Txt x={180} y={351} s={4.8} anchor="end">z-score</Txt>
      <Txt x={187.3} y={351} s={4.8} anchor="end">-2</Txt>
      <Box x={188} y={349} w={25.5} h={4.2} bg={zGrad} border="0.6px solid #444" />
      <Txt x={214} y={351} s={4.8}>2</Txt>

      <HeatMap top={371} bottom={472.3} rows={LIPIDS} m={[LIP_C20_4_CE, LIP_C18_2_CE, LIP_C18_3_CE, LIP_C38_2_PC, LIP_C24_1_SM, LIP_C22_0_SM, LIP_C32_1_PC, LIP_C36_2_PC, LIP_C34_2_PC, LIP_C52_5_TAG, LIP_C56_6_TAG, LIP_C58_6_TAG, LIP_C58_8_TAG, LIP_C58_7_TAG]} color={zColor} fs={6.3} />
      <Txt x={43} y={478.5} s={7.3}>Lipid metabolite abundance</Txt>
      <Txt x={180} y={478.5} s={4.8} anchor="end">z-score</Txt>
      <Txt x={187.5} y={478.5} s={4.8} anchor="end">-2</Txt>
      <Box x={188.5} y={476.5} w={26} h={4.2} bg={zGrad} border="0.6px solid #444" />
      <Txt x={215} y={478.5} s={4.8}>2</Txt>

      <HeatMap top={497.7} bottom={505.2} rows={['SREBF1']} m={[SREBF1_EFFECT]} color={effColor} fs={7.3} />
      <Txt x={43} y={512} s={7.3}>Dependency</Txt>
      <Txt x={179.5} y={511} s={4.8} anchor="end">gene effect</Txt>
      <Txt x={187} y={511} s={4.8} anchor="end">-2</Txt>
      <Box x={187.5} y={509} w={26} h={4.2} bg={effGrad} border="0.6px solid #444" />
      <Txt x={214.5} y={511} s={4.8}>0</Txt>

      {/* ---------- panel b ---------- */}
      <Txt x={228} y={6} s={10} bold>b</Txt>
      <Txt x={243} y={6} s={10} bold>MetMap500</Txt>
      <Txt x={372} y={6} s={9.7}>brain metastatic potential ~ SREBF1 dependency</Txt>
      {B_ROW1_NAMES.map((n, i) => (
        <React.Fragment key={'b1' + n}>
          <Txt x={(B_COLS[i] + B_COLS[i + 1]) / 2} y={20.5} s={6} anchor="middle" color="#111">{n}</Txt>
          <Facet x0={B_COLS[i]} x1={B_COLS[i + 1]} top={24} h={44} pts={B_ROW1_DATA[i]} fit={B_FITS_ROW1[i]} xr={B_X_RANGE} yr={B_Y_RANGE} yTicks={i === 0 ? B_Y_TICKS : undefined} />
        </React.Fragment>
      ))}
      {B_ROW2_NAMES.map((n, i) => (
        <React.Fragment key={'b2' + n}>
          <Txt x={(B_COLS[i] + B_COLS[i + 1]) / 2} y={i === 0 ? 74 : 75.5} s={i === 0 ? 10 : 6} anchor="middle" color="#111">{n}</Txt>
          <Facet x0={B_COLS[i]} x1={B_COLS[i + 1]} top={79} h={43} pts={B_ROW2_DATA[i]} fit={B_FITS_ROW2[i]} xr={B_X_RANGE} yr={B_Y_RANGE} yTicks={i === 0 ? B_Y_TICKS : undefined} xTicks={i === 0 ? B_X_TICKS : undefined} />
        </React.Fragment>
      ))}

      {/* ---------- panel c ---------- */}
      <Txt x={228} y={156} s={10} bold>c</Txt>
      <Txt x={243} y={156} s={10} bold>MetMap125</Txt>
      <Txt x={372} y={156} s={9.7}>brain metastatic potential ~ SREBF1 dependency</Txt>
      {C_NAMES.map((n, i) => (
        <React.Fragment key={'c' + n}>
          <Txt x={(C_COLS[i] + C_COLS[i + 1]) / 2} y={i === 0 ? 171.5 : 173.5} s={i === 0 ? 10 : 6} anchor="middle" color="#111">{n}</Txt>
          <Facet x0={C_COLS[i]} x1={C_COLS[i + 1]} top={177} h={46} pts={C_DATA[i]} fit={C_FITS[i]} xr={C_X_RANGE} yr={C_Y_RANGE} yTicks={i === 0 ? C_Y_TICKS : undefined} xTicks={i === 0 ? C_X_TICKS : undefined} />
        </React.Fragment>
      ))}
    </div>
  );
}
